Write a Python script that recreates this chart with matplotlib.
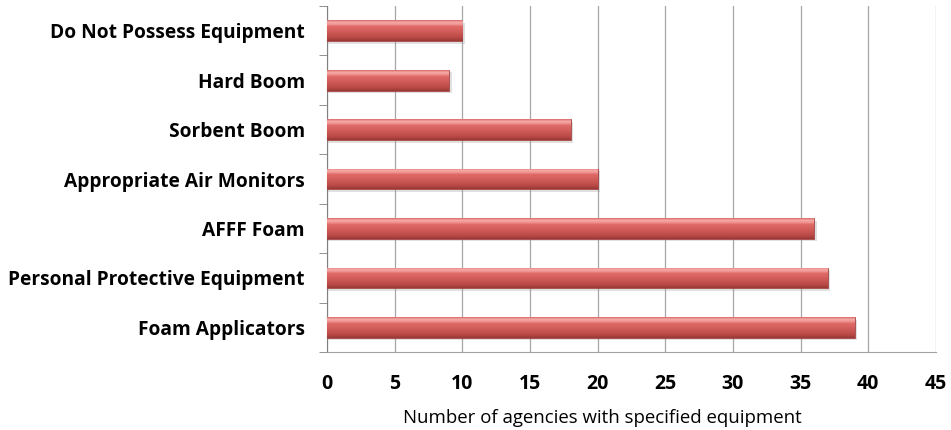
import numpy as np
import matplotlib
matplotlib.use("Agg")
import matplotlib.pyplot as plt
from matplotlib.colors import LinearSegmentedColormap

categories = [
    "Foam Applicators",
    "Personal Protective Equipment",
    "AFFF Foam",
    "Appropriate Air Monitors",
    "Sorbent Boom",
    "Hard Boom",
    "Do Not Possess Equipment",
]
counts = [39, 37, 36, 20, 18, 9, 10]
xticks = [0, 5, 10, 15, 20, 25, 30, 35, 40, 45]
xlabel = "Number of agencies with specified equipment"

fig = plt.figure(figsize=(9.51, 4.30), dpi=100)
ax = fig.add_axes([0.344, 0.181, 0.640, 0.805])

y = np.arange(len(categories))
bars = ax.barh(y, counts, height=0.42, color="#CC5451", edgecolor="#9A3A38",
               linewidth=0.5, zorder=3)

# vertical shading: dark lower edge, saturated body, light band along the top
shade = LinearSegmentedColormap.from_list(
    "bevel",
    [(0.0, "#983936"), (0.15, "#B84946"), (0.45, "#D25C59"), (0.7, "#DE6A67"),
     (0.8, "#EF9794"), (0.9, "#F5AAA7"), (1.0, "#DA6C69")])
grad = np.linspace(0, 1, 64).reshape(-1, 1)
for b in bars:
    x0, y0 = b.get_x(), b.get_y()
    w, h = b.get_width(), b.get_height()
    # soft drop shadow
    ax.barh(y0 + h / 2 - 0.05, w + 0.2, height=h, left=x0, color="#9A9A9A",
            alpha=0.3, linewidth=0, zorder=2)
    im = ax.imshow(grad, cmap=shade, aspect="auto", extent=(x0, x0 + w, y0, y0 + h),
                   origin="lower", zorder=3.5, interpolation="bilinear")
    im.set_clip_path(b)

ax.set_xlim(0, 45)
ax.set_ylim(-0.5, len(categories) - 0.5)
ax.set_xticks(xticks)
ax.set_xticklabels([str(t) for t in xticks], fontsize=14, fontweight="bold",
                   family="Open Sans")
ax.set_yticks(y)
ax.set_yticklabels(categories, fontsize=13.8, fontweight="bold", family="Open Sans")
ax.set_yticks(np.arange(len(categories) + 1) - 0.5, minor=True)
ax.tick_params(axis="y", which="major", length=0, pad=16)
ax.tick_params(axis="y", which="minor", length=6, color="#808080", direction="out")
ax.tick_params(axis="x", length=0, pad=16)
ax.set_xlabel(xlabel, fontsize=13.4, family="Open Sans", labelpad=8)
ax.xaxis.set_label_coords(0.452, -0.165)

ax.grid(axis="x", color="#A6A6A6", linewidth=0.9, zorder=0)
ax.set_axisbelow(True)
for s in ["top", "right"]:
    ax.spines[s].set_visible(False)
ax.spines["left"].set_color("#808080")
ax.spines["bottom"].set_color("#A0A0A0")

fig.savefig("out.png", dpi=100)
